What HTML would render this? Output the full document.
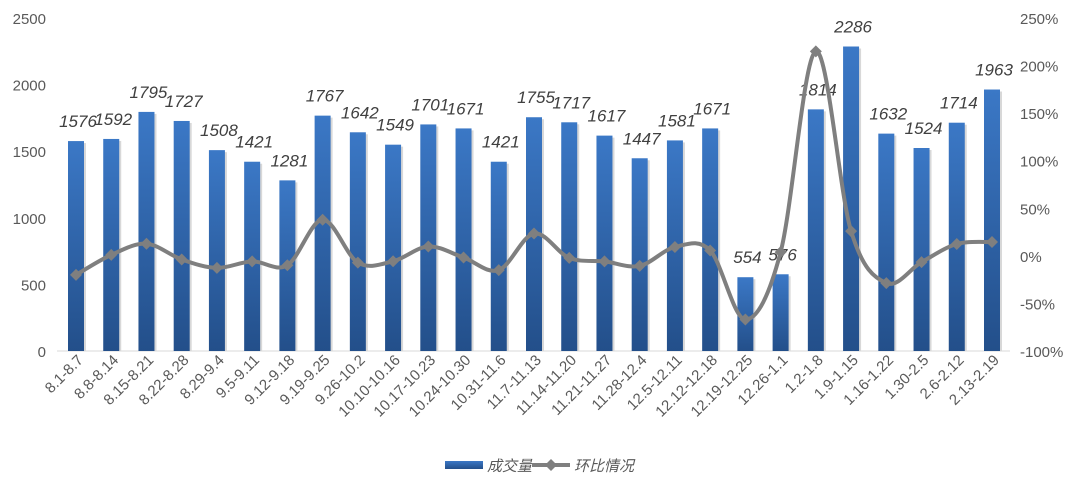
<!DOCTYPE html>
<html><head><meta charset="utf-8"><style>
html,body{margin:0;padding:0;background:#fff;width:1080px;height:493px;overflow:hidden}
svg text{font-family:"Liberation Sans","Noto Sans CJK SC",sans-serif}
</style></head><body>
<svg id="c" width="1080" height="493" xmlns="http://www.w3.org/2000/svg">
<defs>
<linearGradient id="g" x1="0" y1="0" x2="0" y2="1">
<stop offset="0" stop-color="#3b78c6"/><stop offset="1" stop-color="#234f8a"/>
</linearGradient>
</defs>
</svg>
<script>
(function(){
const L=["8.1-8.7","8.8-8.14","8.15-8.21","8.22-8.28","8.29-9.4","9.5-9.11","9.12-9.18","9.19-9.25","9.26-10.2","10.10-10.16","10.17-10.23","10.24-10.30","10.31-11.6","11.7-11.13","11.14-11.20","11.21-11.27","11.28-12.4","12.5-12.11","12.12-12.18","12.19-12.25","12.26-1.1","1.2-1.8","1.9-1.15","1.16-1.22","1.30-2.5","2.6-2.12","2.13-2.19"];
const V=[1576,1592,1795,1727,1508,1421,1281,1767,1642,1549,1701,1671,1421,1755,1717,1617,1447,1581,1671,554,576,1814,2286,1632,1524,1714,1963];
const P=[-20];for(let i=1;i<V.length;i++)P.push((V[i]/V[i-1]-1)*100);
const y0=351,topY=18,H=y0-topY;
const yv=v=>y0-v/2500*H, yp=p=>y0-(p+100)/350*H;
const X=i=>76+i*(992-76)/26;
let s='';
for(let k=0;k<=5;k++){const v=k*500;s+=`<text x="46" y="${yv(v)+6}" font-size="15" fill="#595959" text-anchor="end">${v}</text>`;}
for(let k=0;k<=7;k++){const p=-100+k*50;s+=`<text x="1020" y="${yp(p)+6}" font-size="15" fill="#595959">${p}%</text>`;}
s+=`<line x1="57" y1="${y0}" x2="1010" y2="${y0}" stroke="#d9d9d9"/>`;
V.forEach((v,i)=>{const x=X(i);
s+=`<rect x="${x-6}" y="${yv(v)+2}" width="16" height="${y0-yv(v)-2}" fill="#d8d8d8"/>`;
s+=`<rect x="${x-8}" y="${yv(v)}" width="16" height="${y0-yv(v)}" fill="url(#g)"/>`;
s+=`<text x="${x+2}" y="${yv(v)-14}" font-size="17" font-style="italic" fill="#404040" text-anchor="middle">${v}</text>`;
s+=`<text transform="translate(${x+8},${y0+10}) rotate(-45)" font-size="15" fill="#595959" text-anchor="end">${L[i]}</text>`;});
const pts=P.map((p,i)=>[X(i),yp(p)]);
let d=`M${pts[0][0]},${pts[0][1]}`;
for(let i=0;i<pts.length-1;i++){const p0=pts[Math.max(0,i-1)],p1=pts[i],p2=pts[i+1],p3=pts[Math.min(pts.length-1,i+2)];
const t=1/6;d+=` C${p1[0]+(p2[0]-p0[0])*t},${p1[1]+(p2[1]-p0[1])*t} ${p2[0]-(p3[0]-p1[0])*t},${p2[1]-(p3[1]-p1[1])*t} ${p2[0]},${p2[1]}`;}
s+=`<path d="${d}" fill="none" stroke="#7f7f7f" stroke-width="4"/>`;
pts.forEach(p=>{s+=`<path d="M${p[0]},${p[1]-6}L${p[0]+6},${p[1]}L${p[0]},${p[1]+6}L${p[0]-6},${p[1]}Z" fill="#7f7f7f"/>`;});
s+=`<rect x="445" y="461" width="38" height="8" fill="url(#g)"/><text x="487" y="471" font-size="15" font-style="italic" fill="#595959">成交量</text>`;
s+=`<line x1="532" y1="465" x2="570" y2="465" stroke="#7f7f7f" stroke-width="4"/><path d="M551,459L557,465L551,471L545,465Z" fill="#7f7f7f"/><text x="574" y="471" font-size="15" font-style="italic" fill="#595959">环比情况</text>`;
document.getElementById('c').insertAdjacentHTML('beforeend',s);
})();
</script>
</body></html>
